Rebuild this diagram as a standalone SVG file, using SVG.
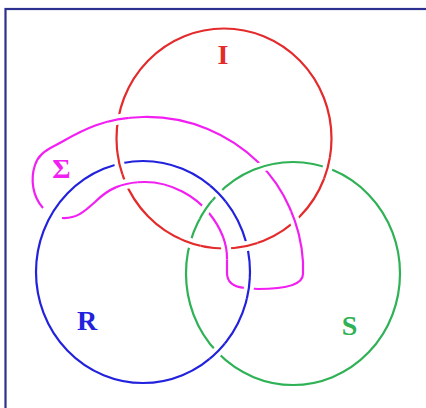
<svg xmlns="http://www.w3.org/2000/svg" width="426" height="408" viewBox="0 0 426 408">
<style>
.ring{fill:none;stroke-width:2.2}
.halo{fill:none;stroke:#ffffff;stroke-width:10}
.red{stroke:#e42b2b}
.blue{stroke:#2222dd}
.green{stroke:#2fb155}
.mag{stroke:#f21ff2}
.lbl{font-family:"Liberation Serif","DejaVu Serif",serif;font-weight:bold;font-size:28px;text-anchor:middle}
</style>
<defs>
<ellipse id="pR" cx="224" cy="138.5" rx="107.5" ry="110"/>
<ellipse id="pB" cx="143" cy="272" rx="107" ry="111"/>
<ellipse id="pG" cx="293" cy="273.5" rx="107" ry="111.5"/>
<path id="pM" d="M62,218 C76,219 84,212 95,202 C108,189 122,182 145,182 C172,182 196,197 209,213 C221,228 227,242 227,258 L227,273 C227,283 234,287 245,288 L258,289 C283,289 303,286 303,274 L303,262 C301,226 285,188 258,162 C230,135 190,116 143,117 C100,118 78,133 56,145 C44,151 38,156 35,165 C30,180 33,197 43,208"/>
<clipPath id="k1"><circle cx="118" cy="120" r="11"/></clipPath>
<clipPath id="k2"><circle cx="119.3" cy="163.8" r="11"/></clipPath>
<clipPath id="k3"><circle cx="126.5" cy="184" r="11"/></clipPath>
<clipPath id="k5"><circle cx="218" cy="193.4" r="11"/></clipPath>
<clipPath id="k6"><circle cx="206" cy="209.5" r="11"/></clipPath>
<clipPath id="k7"><circle cx="190" cy="243" r="11"/></clipPath>
<clipPath id="k8"><circle cx="226.5" cy="248.5" r="11"/></clipPath>
<clipPath id="k9"><circle cx="246.9" cy="246" r="11"/></clipPath>
<clipPath id="k10"><circle cx="249" cy="288" r="11"/></clipPath>
<clipPath id="k11"><circle cx="262.3" cy="166.4" r="11"/></clipPath>
<clipPath id="k12"><circle cx="327.5" cy="168" r="11"/></clipPath>
<clipPath id="k13"><circle cx="295" cy="221.5" r="11"/></clipPath>
<clipPath id="k14"><circle cx="218" cy="352" r="11"/></clipPath>
</defs>
<rect x="5.5" y="9" width="440" height="420" fill="none" stroke="#2d3190" stroke-width="2.2"/>
<g id="node-I">
<use href="#pR" class="ring red"/>
<text class="lbl" x="223" y="64" fill="#e42b2b">I</text>
</g>
<g id="node-R">
<use href="#pB" class="ring blue"/>
<text class="lbl" x="87" y="330" fill="#2222dd">R</text>
</g>
<g id="node-S">
<use href="#pG" class="ring green"/>
<text class="lbl" x="349.5" y="335" fill="#2fb155">S</text>
</g>
<g id="node-Sigma">
<use href="#pM" class="ring mag"/>
<text class="lbl" x="61.5" y="178" fill="#f21ff2">Σ</text>
</g>
<g id="crossings">
<g clip-path="url(#k1)"><use href="#pM" class="halo"/><use href="#pM" class="ring mag"/></g>
<g clip-path="url(#k2)"><use href="#pR" class="halo"/><use href="#pR" class="ring red"/></g>
<g clip-path="url(#k3)"><use href="#pM" class="halo"/><use href="#pM" class="ring mag"/></g>
<g clip-path="url(#k5)"><use href="#pB" class="halo"/><use href="#pB" class="ring blue"/></g>
<g clip-path="url(#k6)"><use href="#pG" class="halo"/><use href="#pG" class="ring green"/></g>
<g clip-path="url(#k7)"><use href="#pR" class="halo"/><use href="#pR" class="ring red"/></g>
<g clip-path="url(#k8)"><use href="#pM" class="halo"/><use href="#pM" class="ring mag"/></g>
<g clip-path="url(#k9)"><use href="#pR" class="halo"/><use href="#pR" class="ring red"/></g>
<g clip-path="url(#k10)"><use href="#pB" class="halo"/><use href="#pB" class="ring blue"/></g>
<g clip-path="url(#k11)"><use href="#pG" class="halo"/><use href="#pG" class="ring green"/></g>
<g clip-path="url(#k12)"><use href="#pR" class="halo"/><use href="#pR" class="ring red"/></g>
<g clip-path="url(#k13)"><use href="#pM" class="halo"/><use href="#pM" class="ring mag"/></g>
<g clip-path="url(#k14)"><use href="#pB" class="halo"/><use href="#pB" class="ring blue"/></g>
</g>
</svg>
